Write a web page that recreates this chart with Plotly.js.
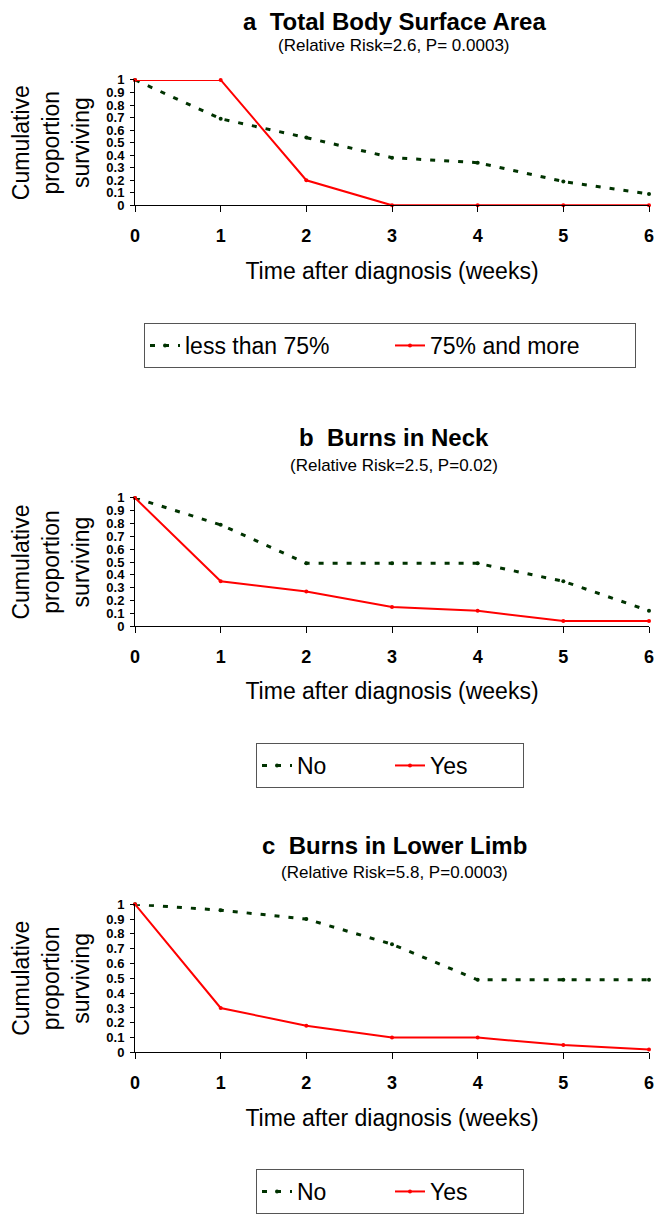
<!DOCTYPE html>
<html>
<head>
<meta charset="utf-8">
<script src="https://cdn.plot.ly/plotly-3.0.1.min.js"></script>
<style>html,body{margin:0;padding:0;background:#fff;}#chart{width:656px;height:1214px;}</style>
</head>
<body>
<div id="chart"></div>
<script>
// ---- data ----
const weeks = [0, 1, 2, 3, 4, 5, 6];
const tbsaLess75 = [1, 0.69, 0.54, 0.38, 0.34, 0.19, 0.09];
const tbsa75More = [1, 1, 0.2, 0, 0, 0, 0];
const neckNo = [1, 0.79, 0.49, 0.49, 0.49, 0.35, 0.12];
const neckYes = [1, 0.35, 0.27, 0.15, 0.12, 0.04, 0.04];
const limbNo = [1, 0.96, 0.9, 0.73, 0.49, 0.49, 0.49];
const limbYes = [1, 0.3, 0.18, 0.1, 0.1, 0.05, 0.02];
const yTickVals = [0, 0.1, 0.2, 0.3, 0.4, 0.5, 0.6, 0.7, 0.8, 0.9, 1];
const yTickText = ['0', '0.1', '0.2', '0.3', '0.4', '0.5', '0.6', '0.7', '0.8', '0.9', '1'];
const panelTitles = ['a  Total Body Surface Area', 'b  Burns in Neck', 'c  Burns in Lower Limb'];
const panelSubtitles = ['(Relative Risk=2.6, P= 0.0003)', '(Relative Risk=2.5, P=0.02)', '(Relative Risk=5.8, P=0.0003)'];
const seriesNames = [['less than 75%', '75% and more'], ['No', 'Yes'], ['No', 'Yes']];
const yTitle = 'Cumulative<br>proportion<br>surviving';
const xTitle = 'Time after diagnosis (weeks)';

// ---- styling ----
const FONT = 'Liberation Sans, Arial, sans-serif';
const GREEN = '#003300';
const RED = '#ff0000';
const W = 656, H = 1214;
const py = v => 1 - v / H;

const panels = [
  {green: tbsaLess75, red: tbsa75More, top: 80, bottom: 205.5, title: 22, sub: 46, legTop: 323, entryW: 200},
  {green: neckNo, red: neckYes, top: 498.3, bottom: 626.7, title: 438, sub: 466, legTop: 743, entryW: 88},
  {green: limbNo, red: limbYes, top: 905, bottom: 1053.3, title: 846, sub: 873, legTop: 1170, entryW: 88}
];
const xDomain = [135 / W, 649 / W];

const traces = [];
const layout = {
  width: W, height: H,
  margin: {l: 0, r: 0, t: 0, b: 0},
  paper_bgcolor: '#fff', plot_bgcolor: '#fff',
  font: {family: FONT, color: '#000'},
  showlegend: true,
  annotations: []
};

panels.forEach((p, i) => {
  const k = i === 0 ? '' : String(i + 1);
  const legKey = i === 0 ? 'legend' : 'legend' + (i + 1);
  traces.push({
    x: weeks, y: p.green, name: seriesNames[i][0], type: 'scatter', mode: 'lines+markers',
    xaxis: 'x' + k, yaxis: 'y' + k, legend: legKey, cliponaxis: false,
    line: {color: GREEN, width: 3, dash: '5px,9px'},
    marker: {color: GREEN, size: 4}
  });
  traces.push({
    x: weeks, y: p.red, name: seriesNames[i][1], type: 'scatter', mode: 'lines+markers',
    xaxis: 'x' + k, yaxis: 'y' + k, legend: legKey, cliponaxis: false,
    line: {color: RED, width: 2},
    marker: {color: RED, size: 4}
  });
  layout['xaxis' + k] = {
    domain: xDomain, range: [0, 6], anchor: 'y' + k,
    tickvals: weeks, ticktext: weeks.map(String),
    ticks: 'outside', ticklen: 6, tickcolor: '#000', ticklabelstandoff: 8,
    showline: true, linecolor: '#000', linewidth: 1,
    showgrid: false, zeroline: false, fixedrange: true,
    tickfont: {family: FONT, size: 18, weight: 'bold', color: '#000'},
    title: {text: xTitle, font: {family: FONT, size: 23, color: '#000'}, standoff: 17}
  };
  layout['yaxis' + k] = {
    domain: [py(p.bottom), py(p.top)], range: [0, 1], anchor: 'x' + k,
    tickvals: yTickVals, ticktext: yTickText,
    ticks: 'outside', ticklen: 4, tickcolor: '#000', ticklabelstandoff: 3,
    showline: true, linecolor: '#000', linewidth: 1,
    showgrid: false, zeroline: false, fixedrange: true,
    tickfont: {family: FONT, size: 13, weight: 'bold', color: '#000'},
    title: {text: yTitle, font: {family: FONT, size: 23, color: '#000'}, standoff: 10}
  };
  layout[legKey] = {
    orientation: 'h', x: 390 / W, xanchor: 'center', y: py(p.legTop), yanchor: 'top',
    bgcolor: '#fff', bordercolor: '#555', borderwidth: 1,
    entrywidth: p.entryW, entrywidthmode: 'pixels',
    font: {family: FONT, size: 23, color: '#000'}
  };
  layout.annotations.push({
    text: '<b>' + panelTitles[i] + '</b>', xref: 'paper', yref: 'paper',
    x: 394 / W, y: py(p.title), xanchor: 'center', yanchor: 'middle', showarrow: false,
    font: {family: FONT, size: 24, color: '#000'}
  });
  layout.annotations.push({
    text: panelSubtitles[i], xref: 'paper', yref: 'paper',
    x: 394 / W, y: py(p.sub), xanchor: 'center', yanchor: 'middle', showarrow: false,
    font: {family: FONT, size: 17, color: '#000'}
  });
});

Plotly.newPlot('chart', traces, layout, {staticPlot: true, displayModeBar: false});
</script>
</body>
</html>
